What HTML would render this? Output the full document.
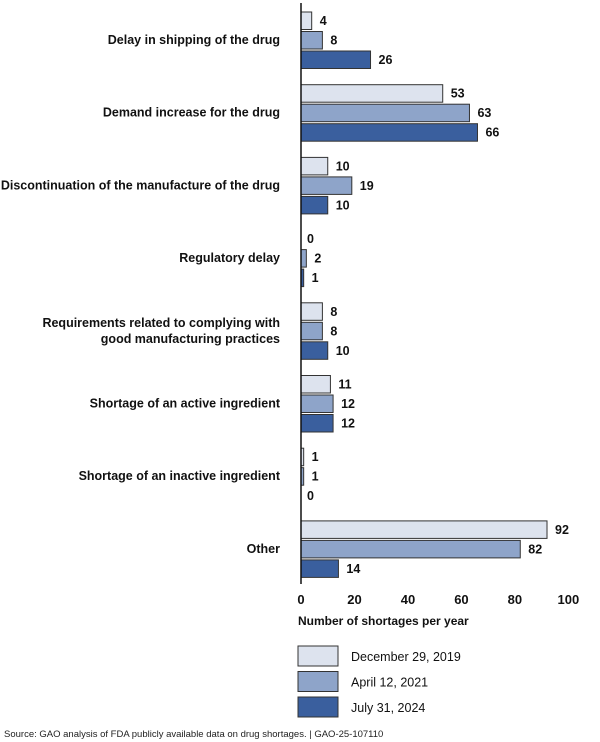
<!DOCTYPE html>
<html><head><meta charset="utf-8"><style>
body{margin:0;background:#fff;}
svg{display:block;font-family:"Liberation Sans",Arial,sans-serif;}
</style></head><body>
<svg id="chart" width="600" height="742"></svg>
<script>
const categories=[["Delay in shipping of the drug"],["Demand increase for the drug"],["Discontinuation of the manufacture of the drug"],["Regulatory delay"],["Requirements related to complying with","good manufacturing practices"],["Shortage of an active ingredient"],["Shortage of an inactive ingredient"],["Other"]];
const seriesNames=["December 29, 2019","April 12, 2021","July 31, 2024"];
const s2019=[4,53,10,0,8,11,1,92];
const s2021=[8,63,19,2,8,12,1,82];
const s2024=[26,66,10,1,10,12,0,14];
const ticks=[0,20,40,60,80,100];
const colors=["#dde3ee","#8ea4c9","#3a5f9e"];
const NS="http://www.w3.org/2000/svg";
const svg=document.getElementById('chart');
const x0=301,scale=2.674;
const xs=v=>x0+v*scale;
const groupTop=i=>12+i*72.7;
function mk(t,a,txt){const e=document.createElementNS(NS,t);for(const k in a)e.setAttribute(k,a[k]);if(txt!=null)e.textContent=txt;svg.appendChild(e);return e;}
const series=[s2019,s2021,s2024];
categories.forEach((lines,i)=>{
  const gt=groupTop(i);
  const cy=gt+28;
  const t=mk('text',{x:280,y:cy+4-(lines.length-1)*8,'text-anchor':'end','font-size':'12.5','font-weight':'bold',fill:'#111'});
  
  
  lines.forEach((l,j)=>{const ts=document.createElementNS(NS,'tspan');ts.setAttribute('x',280);ts.setAttribute('dy',j?16:0);ts.textContent=l;t.appendChild(ts);});
  series.forEach((arr,s)=>{
    const y=gt+s*19.5;const v=arr[i];
    const r=mk('rect',{x:x0,y:y,width:Math.max(v*scale,0.01),height:17.5,fill:colors[s],stroke:'#333','stroke-width':v>0?1:0});
    
    
    const vl=mk('text',{x:xs(v)+(v>0?8:6),y:y+13,'font-size':'12.5','font-weight':'bold',fill:'#111'},String(v));
    
    
  });
});
const ax=mk('line',{x1:x0,y1:3,x2:x0,y2:584,stroke:'#111','stroke-width':1.5});


ticks.forEach(v=>{
  const t=mk('text',{x:xs(v),y:604,'text-anchor':'middle','font-size':'13','font-weight':'bold',fill:'#111'},String(v));
  
  
});
const at=mk('text',{x:298,y:625,'font-size':'12','font-weight':'bold',fill:'#111'},'Number of shortages per year');


seriesNames.forEach((n,s)=>{
  const y=646+s*25.5;
  const r=mk('rect',{x:298,y:y,width:40,height:20,fill:colors[s],stroke:'#333','stroke-width':1});
  
  
  const t=mk('text',{x:351,y:y+15,'font-size':'12.5',fill:'#111'},n);
  
  
});
const src=mk('text',{x:4,y:737,'font-size':'9.5',fill:'#222'},'Source: GAO analysis of FDA publicly available data on drug shortages.  |  GAO-25-107110');


</script>
</body></html>
